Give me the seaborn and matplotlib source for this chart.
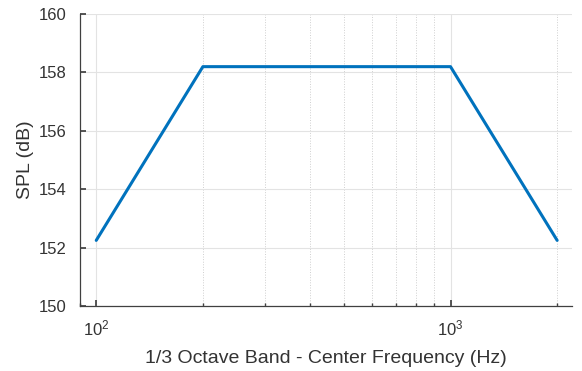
import numpy as np
import pandas as pd
import matplotlib.pyplot as plt
import seaborn as sns
from matplotlib.ticker import LogLocator, NullFormatter

sns.set_theme(style="white")
plt.rcParams["font.family"] = ["Liberation Sans", "DejaVu Sans"]
plt.rcParams["mathtext.fontset"] = "custom"
plt.rcParams["mathtext.rm"] = "Liberation Sans"

freq_hz = [100, 200, 1000, 2000]
spl_db = [152.25, 158.2, 158.2, 152.25]

df = pd.DataFrame({"freq": freq_hz, "spl": spl_db})

fig = plt.figure(figsize=(5.82, 3.71), dpi=100)
ax = fig.add_axes([0.1375, 0.175, 0.845, 0.787])

sns.lineplot(data=df, x="freq", y="spl", ax=ax, color="#0072BD", linewidth=2.2)

ax.set_xscale("log")
ax.set_xlim(90, 2200)
ax.set_ylim(150, 160)
ax.set_yticks([150, 152, 154, 156, 158, 160])
ax.xaxis.set_major_locator(LogLocator(base=10, numticks=10))
ax.xaxis.set_minor_locator(LogLocator(base=10, subs=np.arange(2, 10), numticks=10))
ax.xaxis.set_minor_formatter(NullFormatter())

ax.grid(True, which="major", color="#e3e3e3", linewidth=0.8, linestyle="-")
ax.grid(True, which="minor", axis="x", color="#cfcfcf", linewidth=0.7, linestyle=":")
ax.set_axisbelow(True)

for side in ["top", "right"]:
    ax.spines[side].set_visible(False)
for side in ["left", "bottom"]:
    ax.spines[side].set_color("#404040")
    ax.spines[side].set_linewidth(0.9)

ax.tick_params(which="both", direction="in", colors="#404040", labelcolor="#333333",
               labelsize=12, left=True, bottom=True)
ax.tick_params(which="major", length=4)
ax.tick_params(which="minor", length=2.5)
ax.tick_params(axis="x", which="major", pad=9)
ax.tick_params(axis="y", which="major", pad=10)

ax.set_xlabel("1/3 Octave Band - Center Frequency (Hz)", fontsize=14, color="#333333", labelpad=8)
ax.set_ylabel("SPL (dB)", fontsize=14, color="#333333", labelpad=3)

fig.savefig("out.png", dpi=100)
